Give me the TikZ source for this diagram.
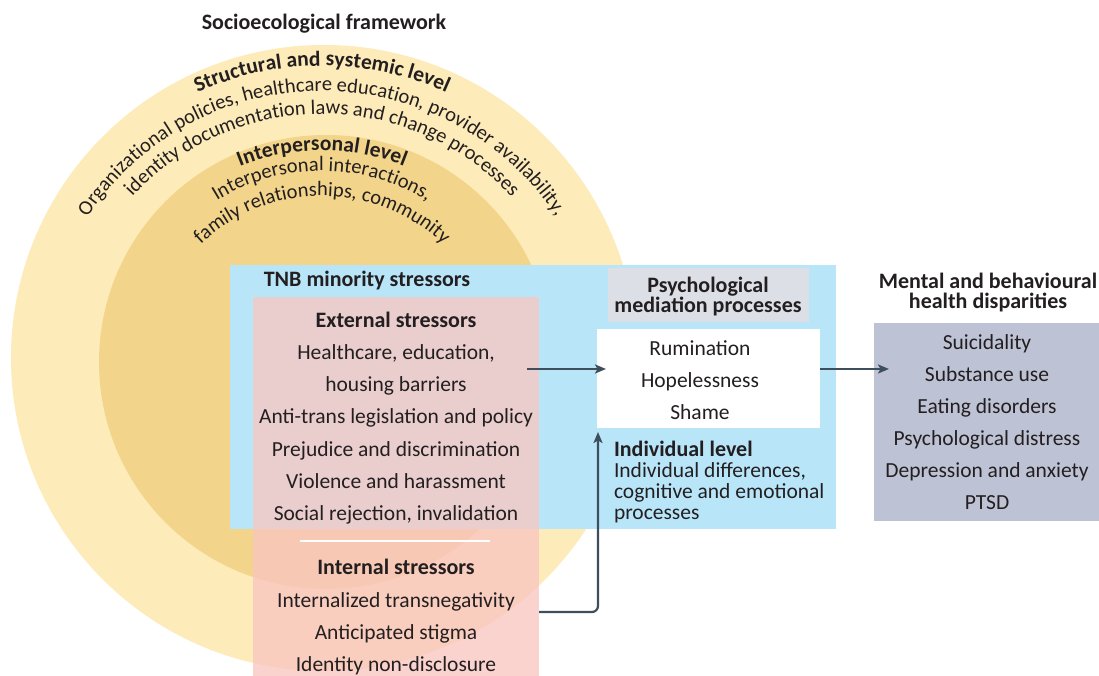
\documentclass[tikz,border=0pt]{standalone}
\usepackage{fontspec}
\setmainfont{Carlito}
\usetikzlibrary{decorations.text,arrows.meta}
\definecolor{outerY}{RGB}{253,235,185}
\definecolor{innerY}{RGB}{242,213,138}
\definecolor{tnbBlue}{RGB}{185,229,249}
\definecolor{pinkS}{RGB}{249,198,193}
\definecolor{medGray}{RGB}{220,223,230}
\definecolor{outGray}{RGB}{190,194,213}
\definecolor{arrowC}{RGB}{61,79,92}
\definecolor{txt}{RGB}{35,31,32}
\newcommand\fr{\fontsize{21.5}{20}\selectfont}
\newcommand\fb{\fontsize{22}{20}\selectfont\bfseries}
\newcommand\fcr{\fontsize{20.5}{20}\selectfont}
\newcommand\fcb{\fontsize{21.5}{20}\selectfont\bfseries}
\begin{document}
\begin{tikzpicture}[x=1pt,y=1pt,
  every node/.style={text=txt, inner sep=0pt, outer sep=0pt},
  item/.style={font=\fr, anchor=base},
  head/.style={font=\fb, anchor=base},
  box/.style={anchor=south west, inner sep=0pt, draw=none},
  conn/.style={draw=arrowC, line width=2.2pt, -{Stealth[length=11pt,width=9pt,inset=2.5pt]}},
  arctxt/.style={decorate, decoration={text along path, text align=center, text color=txt}}
]
\useasboundingbox (0,0) rectangle (1099,676);
\fill[white] (0,0) rectangle (1099,676);

% socioecological circles
\node[circle, fill=outerY, minimum size=626pt, inner sep=0pt] (outer) at (324,318) {};
\node[circle, fill=innerY, minimum size=454pt, inner sep=0pt] (inner) at (326,314) {};
\node[head] (title) at (324,646) {Socioecological framework};

% curved texts
\coordinate (tc) at (322,304);
\path[arctxt, decoration={text={|\fcb|Structural and systemic level}}]
  ([shift={(170:306)}]tc) arc[start angle=170, end angle=10, radius=306];
\path[arctxt, decoration={text={|\fcr|Organizational policies, healthcare education, provider availability,}}]
  ([shift={(178:281)}]tc) arc[start angle=178, end angle=2, radius=281];
\path[arctxt, decoration={text={|\fcr|identity documentation laws and change processes}}]
  ([shift={(175:258)}]tc) arc[start angle=175, end angle=5, radius=258];
\path[arctxt, decoration={text={|\fcb|Interpersonal level}}]
  ([shift={(170:221.5)}]tc) arc[start angle=170, end angle=10, radius=221.5];
\path[arctxt, decoration={text={|\fcr|Interpersonal interactions,}}]
  ([shift={(170:201)}]tc) arc[start angle=170, end angle=10, radius=201];
\path[arctxt, decoration={text={|\fcr|family relationships, community}}]
  ([shift={(175:176)}]tc) arc[start angle=175, end angle=5, radius=176];

% TNB minority stressors
\node[box, fill=tnbBlue, minimum width=606pt, minimum height=264pt] (tnb) at (230,147) {};
\node[box, fill=pinkS, fill opacity=0.77, minimum width=286pt, minimum height=379pt] (stress) at (253,0) {};
\draw[white, line width=1.5pt] (300,135) -- (490,135);
\node[head] (tnbt) at (367,389) {TNB minority stressors};

\node[head] (ext) at (396,348) {External stressors};
\node[item] (e1) at (396,316) {Healthcare, education,};
\node[item] (e2) at (396,284) {housing barriers};
\node[item] (e3) at (396,252) {Anti-trans legislation and policy};
\node[item] (e4) at (396,219) {Prejudice and discrimination};
\node[item] (e5) at (396,187) {Violence and harassment};
\node[item] (e6) at (396,155) {Social rejection, invalidation};

\node[head] (int) at (396,101) {Internal stressors};
\node[item] (i1) at (396,68) {Internalized transnegativity};
\node[item] (i2) at (396,36) {Anticipated stigma};
\node[item] (i3) at (396,4) {Identity non-disclosure};

% mediation
\node[box, fill=medGray, minimum width=201pt, minimum height=54pt] (medh) at (608,354) {};
\node[head] (m0a) at (708,383) {Psychological};
\node[head] (m0b) at (708,363) {mediation processes};
\node[box, fill=white, minimum width=223pt, minimum height=99pt] (medb) at (597,248) {};
\node[item] (m1) at (700,320) {Rumination};
\node[item] (m2) at (700,288) {Hopelessness};
\node[item] (m3) at (700,256) {Shame};

\node[head, anchor=base west] (ind) at (614,219) {Individual level};
\node[item, anchor=base west] (ind1) at (614,198) {Individual differences,};
\node[item, anchor=base west] (ind2) at (614,177) {cognitive and emotional};
\node[item, anchor=base west] (ind3) at (614,156) {processes};

% outcomes
\node[head] (o0a) at (988,387) {Mental and behavioural};
\node[head] (o0b) at (988,367) {health disparities};
\node[box, fill=outGray, minimum width=225pt, minimum height=198pt] (outb) at (874,155) {};
\node[item] (o1) at (987,326) {Suicidality};
\node[item] (o2) at (987,294) {Substance use};
\node[item] (o3) at (987,262) {Eating disorders};
\node[item] (o4) at (987,230) {Psychological distress};
\node[item] (o5) at (987,198) {Depression and anxiety};
\node[item] (o6) at (987,166) {PTSD};

% connectors
\coordinate (a1s) at (527,307);
\coordinate (a1e) at (606,307);
\coordinate (a2s) at (820,307);
\coordinate (a2e) at (889,307);
\coordinate (a3s) at (539,64);
\coordinate (a3c) at (598,64);
\coordinate (a3e) at (598,244);
\draw[conn] (a1s) -- (a1e);
\draw[conn] (a2s) -- (a2e);
\draw[conn, rounded corners=6pt] (a3s) -- (a3c) -- (a3e);
\end{tikzpicture}
\end{document}
